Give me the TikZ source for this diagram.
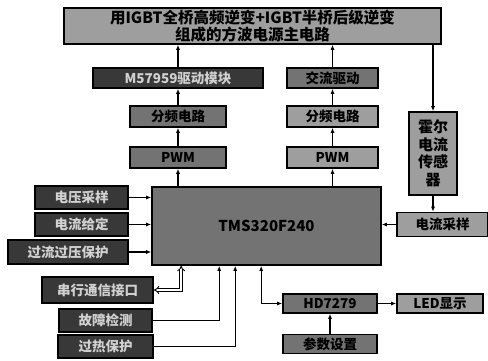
\documentclass[tikz,border=0pt]{standalone}
\usepackage{fontspec}
\setmainfont{Noto Sans CJK SC}
\usepackage{xcolor}
\usetikzlibrary{arrows.meta, positioning, calc}
\definecolor{boxdark}{gray}{0.22}
\definecolor{boxmid}{gray}{0.45}
\definecolor{boxlight}{gray}{0.62}
\tikzset{
  >={Latex[length=5pt,width=4pt]},
  % Blocchi
  blk/.style={draw=black,line width=1.6pt,inner sep=1pt,font=\fontsize{13.5}{15}\selectfont\bfseries},
  blk dark/.style={blk,fill=boxdark,text=white!82!black},
  blk mid/.style={blk,fill=boxmid,text=black},
  blk light/.style={blk,fill=boxlight,text=black},
  % Connessioni
  link/.style={->,line width=1.2pt},
  dbl link/.style={{Implies}-{Implies},double,double distance=1.8pt,line width=0.9pt}
}
\begin{document}
\begin{tikzpicture}[x=1pt,y=-1pt]
  \useasboundingbox (0,0) rectangle (488,361);
  % circuito principale
  \node[blk light,minimum width=377pt,minimum height=36pt,align=center,
        font=\fontsize{15.5}{17}\selectfont\bfseries] (main) at (252.5,26)
        {用IGBT全桥高频逆变+IGBT半桥后级逆变\\组成的方波电源主电路};
  \node[blk dark,minimum width=170pt,minimum height=20pt] (drv) at (178,78) {M57959驱动模块};
  \node[blk mid,minimum width=91pt,minimum height=20pt] (acd) at (332.5,78) {交流驱动};
  \node[blk mid,minimum width=96pt,minimum height=21pt] (divl) at (178,116.5) {分频电路};
  \node[blk light,minimum width=91pt,minimum height=21pt] (divr) at (332.5,116.5) {分频电路};
  \node[blk mid,minimum width=96pt,minimum height=21pt] (pwml) at (178,157.5) {PWM};
  \node[blk light,minimum width=91pt,minimum height=21pt] (pwmr) at (332.5,157.5) {PWM};
  \node[blk mid,minimum width=229pt,minimum height=78pt,
        font=\fontsize{15}{17}\selectfont\bfseries\itshape] (dsp) at (266.5,226) {TMS320F240};
  % retroazione di corrente
  \node[blk light,minimum width=48pt,minimum height=83pt,align=center,
        font=\fontsize{15}{17.5}\selectfont\bfseries] (hall) at (433,153.5) {霍尔\\电流\\传感\\器};
  \node[blk light,minimum width=91pt,minimum height=24pt] (isam) at (442.5,224.5) {电流采样};
  % ingressi a sinistra
  \node[blk dark,minimum width=93pt,minimum height=23pt] (in1) at (81.5,197.5) {电压采样};
  \node[blk dark,minimum width=93pt,minimum height=23pt] (in2) at (81.5,224.5) {电流给定};
  \node[blk dark,minimum width=120pt,minimum height=24pt] (in3) at (68,252) {过流过压保护};
  \node[blk dark,minimum width=111pt,minimum height=26pt] (com) at (97.5,290) {串行通信接口};
  \node[blk dark,minimum width=93pt,minimum height=23pt] (in5) at (105.5,320.5) {故障检测};
  \node[blk dark,minimum width=95pt,minimum height=23pt] (in6) at (105.5,346.5) {过热保护};
  % visualizzazione
  \node[blk mid,minimum width=94pt,minimum height=19pt] (hd) at (330,303.5) {HD7279};
  \node[blk light,minimum width=86pt,minimum height=19pt] (led) at (440,303.5) {LED显示};
  \node[blk mid,minimum width=94pt,minimum height=19pt] (par) at (330,344) {参数设置};

  \draw[link] (dsp.north -| pwml) -- (pwml);
  \draw[link] (pwml) -- (divl);
  \draw[link] (divl) -- (drv);
  \draw[link] (drv) -- (drv |- main.south);
  \draw[link] (dsp.north -| pwmr) -- (pwmr);
  \draw[link] (pwmr) -- (divr);
  \draw[link] (divr) -- (acd);
  \draw[link] (acd) -- (acd |- main.south);
  \draw[link] (main.south -| hall) -- (hall);
  \draw[link] (hall.south) -- (hall.south |- isam.north);
  \draw[link] (isam) -- (dsp.east |- isam);
  \draw[link] (in1) -- (dsp.west |- in1);
  \draw[link] (in2) -- (dsp.west |- in2);
  \draw[link] (in3) -- (dsp.west |- in3);
  \draw[dbl link] (com.east) -| ($(dsp.south west)+(30,0)$);
  \draw[link] (in5.east) -| ($(dsp.south west)+(68,0)$);
  \draw[link] (in6.east) -| ($(dsp.south west)+(84,0)$);
  \draw[link,<->] ($(dsp.south west)+(110,0)$) |- (hd.west);
  \draw[link] (hd) -- (led);
  \draw[link] (par) -- (hd);
\end{tikzpicture}
\end{document}
